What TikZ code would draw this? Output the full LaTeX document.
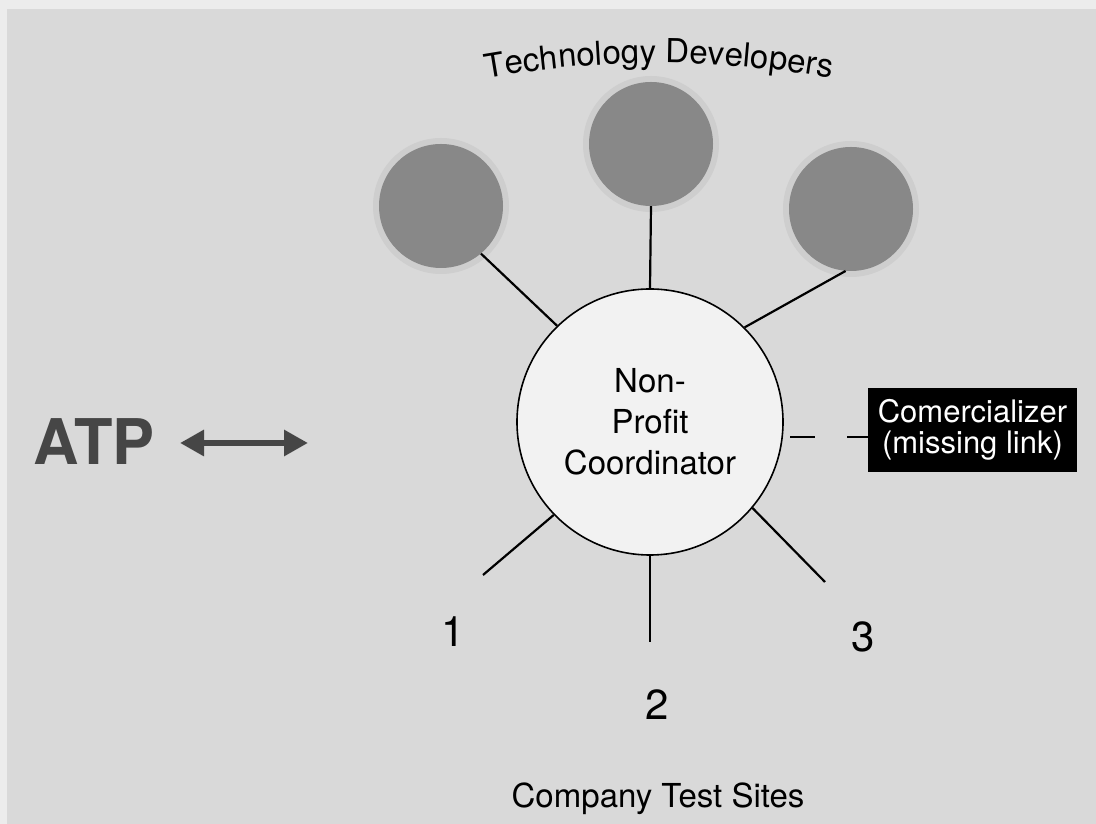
\documentclass[tikz,border=0pt]{standalone}
\usepackage{fontspec}
\setmainfont{TeX Gyre Heros}
\usetikzlibrary{arrows.meta,decorations.text}
\definecolor{bg}{RGB}{217,217,217}
\definecolor{edgecol}{RGB}{236,236,236}
\definecolor{dev}{RGB}{136,136,136}
\definecolor{halocol}{RGB}{206,206,206}
\definecolor{coord}{RGB}{242,242,242}
\definecolor{atpcol}{RGB}{70,70,70}
\newcommand{\tdfont}{\fontsize{33}{40}\selectfont}
\begin{document}
\begin{tikzpicture}[x=1pt,y=1pt,
  devnode/.style={circle,fill=dev,minimum size=124pt,inner sep=0pt},
  halonode/.style={circle,fill=halocol,minimum size=136pt,inner sep=0pt},
  link/.style={line width=2.2pt,black},
  num/.style={font=\fontsize{42}{48}\selectfont},
  caption/.style={font=\fontsize{33}{40}\selectfont,anchor=base}]
\useasboundingbox (0,0) rectangle (1096,824);
\fill[bg] (0,0) rectangle (1096,824);
\fill[edgecol] (0,815) rectangle (1096,824);
\fill[edgecol] (0,0) rectangle (7,824);

% halos and technology developers
\node[halonode] (h1) at (441,618) {};
\node[halonode] (h2) at (651,680) {};
\node[halonode] (h3) at (851,615) {};
\node[devnode] (tl) at (441,618) {};
\node[devnode] (tm) at (651,680) {};
\node[devnode] (tr) at (851,615) {};

% coordinator
\node[circle,draw=black,line width=1.6pt,fill=coord,minimum size=266pt,inner sep=0pt,
      align=center,font=\fontsize{33}{41}\selectfont] (c) at (650,402) {Non-\\Profit\\Coordinator};

\draw[link] (c.134) -- (tl.-50);
\draw[link] (c.90) -- (tm.270);
\draw[link] (c.45) -- (tr.265);

\coordinate (e1) at (483,249);
\coordinate (e2) at (650,182);
\coordinate (e3) at (825,242);
\draw[link] (c.224) -- (e1);
\draw[link] (c.270) -- (e2);
\draw[link] (c.-40) -- (e3);

\node[num] (n1) at (453,192) {1};
\node[num] (n2) at (657,119) {2};
\node[num] (n3) at (863,187) {3};
\node[caption] (sites) at (658,16) {Company Test Sites};

% commercializer
\node[fill=black,text=white,minimum width=209pt,minimum height=84pt,inner sep=0pt,
      align=center,font=\fontsize{31}{31}\selectfont] (com) at (972.5,394) {Comercializer\\(missing link)};
\coordinate (k1) at (790,387);
\coordinate (k2) at (815,387);
\coordinate (k3) at (847,387);
\draw[link] (k1) -- (k2);
\draw[link] (k3) -- (k3 -| com.west);

% ATP
\node[font=\bfseries\fontsize{63}{66}\selectfont,text=atpcol,anchor=base] (atp) at (94,359) {ATP};
\coordinate (a1) at (180,381);
\coordinate (a2) at (308,381);
\draw[atpcol,line width=6pt,{Triangle[length=24pt,width=25pt]}-{Triangle[length=24pt,width=25pt]}] (a1) -- (a2);

% title on arc
\path[decorate,decoration={text along path,text={|\tdfont|Technology Developers},text align=center}]
  ([shift={(659,-231)}]105:992) arc[start angle=105,end angle=75,radius=992];
\end{tikzpicture}
\end{document}
